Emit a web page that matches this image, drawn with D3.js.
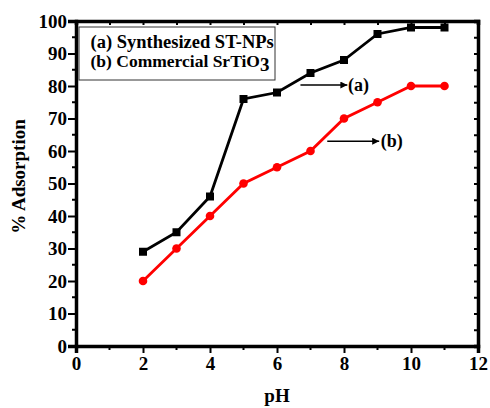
<!DOCTYPE html>
<html>
<head>
<meta charset="utf-8">
<script src="https://cdn.jsdelivr.net/npm/d3@7"></script>
<style>
  body { margin: 0; background: #fff; }
  text { font-family: 'Liberation Serif', 'Times New Roman', serif; font-weight: bold; }
</style>
</head>
<body>
<div id="chart"></div>
<script>
// data
const pH = [2, 3, 4, 5, 6, 7, 8, 9, 10, 11]
const synthesized = [29, 35, 46, 76, 78, 84, 88, 96, 98, 98]
const commercial = [20, 30, 40, 50, 55, 60, 70, 75, 80, 80]
const xTicks = [0, 2, 4, 6, 8, 10, 12]
const yTicks = [0, 10, 20, 30, 40, 50, 60, 70, 80, 90, 100]

const margin = { top: 21, left: 76, right: 12, bottom: 62 }
const width = 490 - margin.left - margin.right
const height = 408 - margin.top - margin.bottom

const svg = d3
  .select('#chart')
  .append('svg')
  .attr('width', 490)
  .attr('height', 408)
  .append('g')
  .attr('transform', 'translate(' + margin.left + ',' + margin.top + ')')

const x = d3.scaleLinear().domain([0, 12]).range([0, width])
const y = d3.scaleLinear().domain([0, 100]).range([height, 0])

// minor ticks
const xMinor = d3.range(1, 12, 2)
const yMinor = d3.range(5, 100, 10)

// bottom axis
const bottomAxis = svg.append('g').attr('transform', 'translate(0,' + height + ')')
bottomAxis.call(d3.axisBottom(x).tickValues(xTicks).tickSize(7).tickPadding(4).tickFormat(d3.format('d')))
bottomAxis.selectAll('.minor').data(xMinor).enter().append('line')
  .attr('x1', d => x(d)).attr('x2', d => x(d)).attr('y1', 0).attr('y2', 4)
  .attr('stroke', 'black').attr('stroke-width', 2)

// left axis
const leftAxis = svg.append('g')
leftAxis.call(d3.axisLeft(y).tickValues(yTicks).tickSize(8).tickPadding(1))
leftAxis.selectAll('.minor').data(yMinor).enter().append('line')
  .attr('y1', d => y(d)).attr('y2', d => y(d)).attr('x1', 0).attr('x2', -4)
  .attr('stroke', 'black').attr('stroke-width', 2)

// top axis, inward ticks
const topAxis = svg.append('g')
topAxis.call(d3.axisTop(x).tickValues(d3.range(0, 13)).tickSize(-4).tickFormat(''))

// right axis, inward ticks
const rightAxis = svg.append('g').attr('transform', 'translate(' + width + ',0)')
rightAxis.call(d3.axisRight(y).tickValues(d3.range(0, 101, 5)).tickSize(-4).tickFormat(''))

svg.selectAll('.domain').attr('stroke-width', 3.5).attr('stroke', 'black')
svg.selectAll('.tick line').attr('stroke-width', 2).attr('stroke', 'black')
svg.selectAll('.tick text').attr('font-size', 19).attr('fill', 'black')
  .style('font-family', "'Liberation Serif', serif").style('font-weight', 'bold')

// series
const line = d3.line().x(d => x(d[0])).y(d => y(d[1]))
const dataA = pH.map((p, i) => [p, synthesized[i]])
const dataB = pH.map((p, i) => [p, commercial[i]])

svg.append('path').datum(dataA).attr('d', line)
  .attr('fill', 'none').attr('stroke', 'black').attr('stroke-width', 2.8)
svg.selectAll('.sq').data(dataA).enter().append('rect')
  .attr('x', d => x(d[0]) - 4).attr('y', d => y(d[1]) - 4)
  .attr('width', 8).attr('height', 8).attr('fill', 'black')

svg.append('path').datum(dataB).attr('d', line)
  .attr('fill', 'none').attr('stroke', '#ff0000').attr('stroke-width', 2.8)
svg.selectAll('.dot').data(dataB).enter().append('circle')
  .attr('cx', d => x(d[0])).attr('cy', d => y(d[1]))
  .attr('r', 4.3).attr('fill', '#ff0000')

// legend box
svg.append('rect').attr('x', 3).attr('y', 6).attr('width', 196).attr('height', 53)
  .attr('fill', 'white').attr('stroke', '#333').attr('stroke-width', 1)
svg.append('text').attr('x', 14.5).attr('y', 27).attr('font-size', 18.5).text('(a) Synthesized ST-NPs')
const lb = svg.append('text').attr('x', 14.5).attr('y', 46).attr('font-size', 17.5)
lb.append('tspan').text('(b) Commercial SrTiO')
lb.append('tspan').attr('dy', 4).attr('font-size', 19).text('3')

// arrows
const defs = svg.append('defs')
defs.append('marker').attr('id', 'arr').attr('viewBox', '0 0 10 10')
  .attr('refX', 10).attr('refY', 5).attr('markerWidth', 11).attr('markerHeight', 7)
  .attr('markerUnits', 'userSpaceOnUse').attr('orient', 'auto')
  .append('path').attr('d', 'M0,0L10,5L0,10Z').attr('fill', 'black')

svg.append('line').attr('x1', x(6.7)).attr('x2', x(8.1)).attr('y1', y(80.3)).attr('y2', y(80.3))
  .attr('stroke', 'black').attr('stroke-width', 1.5).attr('marker-end', 'url(#arr)')
svg.append('text').attr('x', x(8.12)).attr('y', y(80.3) + 6).attr('font-size', 18).text('(a)')

svg.append('line').attr('x1', x(7.5)).attr('x2', x(9.05)).attr('y1', y(63)).attr('y2', y(63))
  .attr('stroke', 'black').attr('stroke-width', 1.5).attr('marker-end', 'url(#arr)')
svg.append('text').attr('x', x(9.1)).attr('y', y(63) + 6).attr('font-size', 18).text('(b)')

// axis titles
svg.append('text').attr('x', x(6)).attr('y', height + 56).attr('text-anchor', 'middle')
  .attr('font-size', 19).text('pH')
svg.append('text').attr('transform', 'translate(-51,' + (height / 2 - 7) + ') rotate(-90)')
  .attr('text-anchor', 'middle').attr('font-size', 19).text('% Adsorption')
</script>
</body>
</html>
